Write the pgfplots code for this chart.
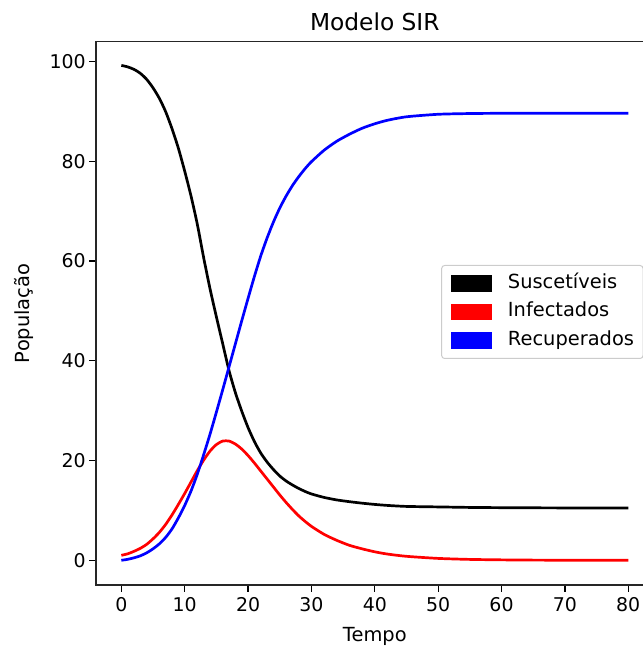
\documentclass[border=0pt]{standalone}
\usepackage{pgfplots}
\pgfplotsset{compat=1.18}
\usepackage{pgfplotstable}
\usepackage{fontspec}
\setmainfont{DejaVu Sans}
\pgfplotstableread{
t S I R
0 99.2 1.0 0.0
1 98.9 1.3 0.2
2 98.4 1.8 0.5
3 97.6 2.4 0.9
4 96.4 3.2 1.5
5 94.7 4.3 2.3
6 92.6 5.6 3.3
7 89.9 7.2 4.6
8 86.5 9.1 6.3
9 82.6 11.2 8.5
10 78.0 13.4 11.0
11 73.0 15.7 13.9
12 67.3 18.0 17.3
13 60.6 20.1 21.2
14 54.4 21.9 25.3
15 48.8 23.2 29.7
16 43.4 23.9 34.2
17 38.0 23.9 38.8
18 33.6 23.3 43.4
19 29.9 22.3 48.0
20 26.6 21.0 52.5
21 23.8 19.5 56.9
22 21.5 17.9 61.0
23 19.7 16.3 64.6
24 18.2 14.7 67.8
25 16.9 13.1 70.6
26 15.9 11.6 73.0
27 15.1 10.2 75.1
28 14.4 8.9 76.9
29 13.8 7.8 78.5
30 13.3 6.8 79.9
32 12.6 5.2 82.2
34 12.1 4.0 84.0
36 11.75 3.0 85.4
38 11.45 2.3 86.6
40 11.2 1.7 87.5
42 11.0 1.25 88.2
45 10.8 0.8 88.9
50 10.7 0.38 89.4
55 10.6 0.18 89.55
60 10.55 0.09 89.6
65 10.52 0.04 89.6
70 10.5 0.02 89.6
75 10.5 0.01 89.6
80 10.5 0.005 89.6
}\sir
\begin{document}
\begin{tikzpicture}
\begin{axis}[
  name=ax,
  scale only axis,
  width=557.6bp, height=543.3bp,
  xmin=-4, xmax=84, ymin=-4.95, ymax=103.95,
  xtick={0,10,...,80}, ytick={0,20,...,100},
  tick pos=left,
  tick align=outside,
  major tick length=6.8bp,
  tick style={line width=1.3bp, black},
  axis line style={line width=1.3bp, black!85},
  /pgf/number format/assume math mode=true,
  ticklabel style={font=\fontsize{19}{23}\selectfont},
  xticklabel style={yshift=-2bp},
  label style={font=\fontsize{19.5}{23.4}\selectfont},
  xlabel style={yshift=-9bp},
  ylabel style={yshift=9bp},
  title style={font=\fontsize{23.4}{28}\selectfont, yshift=1bp},
  title={Modelo SIR},
  xlabel={Tempo}, ylabel={População},
  legend cell align=left,
  legend image code/.code={\fill[#1, sharp corners] (0bp,-6.85bp) rectangle (39bp,6.85bp);},
  legend style={at={(0.619,0.589)}, anchor=north west,
    font=\fontsize{19.5}{23.4}\selectfont,
    draw=black!20, line width=1bp, rounded corners=3bp, fill=white,
    inner xsep=9bp, inner ysep=9bp, row sep=10.5bp, column sep=15.6bp,
    nodes={inner sep=0bp, text height=14bp, text depth=4bp, anchor=west}},
]
\addplot[black, line width=2.7bp, smooth, tension=0.4] table[x=t, y=S] {\sir};
\addlegendentry{Suscetíveis}
\addplot[red, line width=2.7bp, smooth, tension=0.4] table[x=t, y=I] {\sir};
\addlegendentry{Infectados}
\addplot[blue, line width=2.7bp, smooth, tension=0.4] table[x=t, y=R] {\sir};
\addlegendentry{Recuperados}
\end{axis}
\pgfresetboundingbox
\path[use as bounding box] ([xshift=-96bp, yshift=-63bp]ax.south west) rectangle ([xshift=547bp, yshift=41.7bp]ax.north west);
\end{tikzpicture}
\end{document}
